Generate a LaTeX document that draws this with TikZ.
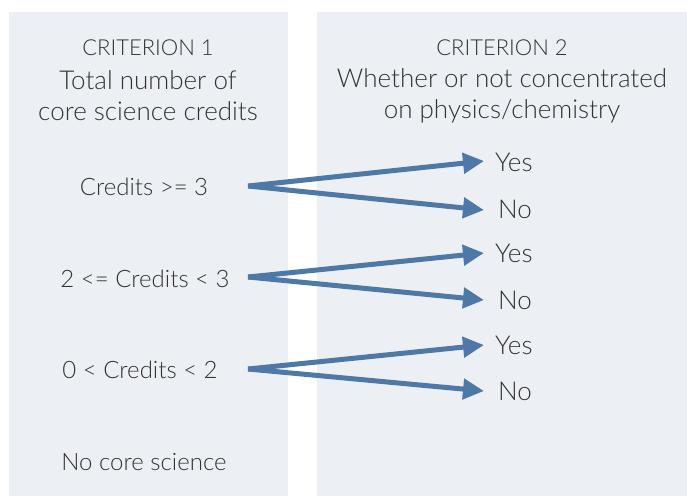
\documentclass[tikz,border=0pt]{standalone}
\usepackage{fontspec}
\setmainfont{Lato Light}
\usetikzlibrary{arrows.meta}
\definecolor{panel}{HTML}{ECEFF4}
\definecolor{arrowc}{HTML}{4E79A7}
\definecolor{txt}{HTML}{333333}
\tikzset{
  lbl/.style={text=txt, inner sep=0pt, anchor=center, font=\fontsize{24}{28}\selectfont},
  head/.style={text=txt, inner sep=0pt, align=center, font=\fontsize{26}{31}\selectfont},
  crit/.style={text=txt, inner sep=0pt, font=\fontsize{22}{25}\selectfont},
  yn/.style={text=txt, inner sep=0pt, anchor=west, font=\fontsize{26}{30}\selectfont},
  arr/.style={draw=arrowc, line width=5pt, -{Triangle[length=21pt,width=20pt]}}
}
\begin{document}
\begin{tikzpicture}[x=1pt,y=-1pt]
\useasboundingbox (0,0) rectangle (687,496);
\fill[white] (0,0) rectangle (687,496);
\fill[panel] (9,12) rectangle (288,496);
\fill[panel] (317,12) rectangle (687,496);

\node[crit] (c1) at (148,48) {CRITERION 1};
\node[head] (h1) at (148,96) {Total number of\\core science credits};
\node[crit] (c2) at (502,48) {CRITERION 2};
\node[head] (h2) at (502,96) {Whether or not concentrated\\on physics/chemistry};

\node[lbl] (a) at (144,187) {Credits >= 3};
\node[lbl] (b) at (145,279) {2 <= Credits < 3};
\node[lbl] (c) at (140,370) {0 < Credits < 2};
\node[lbl] (d) at (144,462) {No core science};

\coordinate (as) at (248,186);
\coordinate (bs) at (248,277);
\coordinate (cs) at (248,369);

\node[yn] (ay) at (495,162) {Yes};
\node[yn] (an) at (498,209) {No};
\node[yn] (by) at (495,253) {Yes};
\node[yn] (bn) at (498,300) {No};
\node[yn] (cy) at (495,345) {Yes};
\node[yn] (cn) at (498,391) {No};

\coordinate (ayt) at (484,161);
\coordinate (ant) at (484,210);
\coordinate (byt) at (484,253);
\coordinate (bnt) at (484,300);
\coordinate (cyt) at (484,345);
\coordinate (cnt) at (484,391);

\draw[arr] (as) -- (ayt);
\draw[arr] (as) -- (ant);
\draw[arr] (bs) -- (byt);
\draw[arr] (bs) -- (bnt);
\draw[arr] (cs) -- (cyt);
\draw[arr] (cs) -- (cnt);
\end{tikzpicture}
\end{document}
